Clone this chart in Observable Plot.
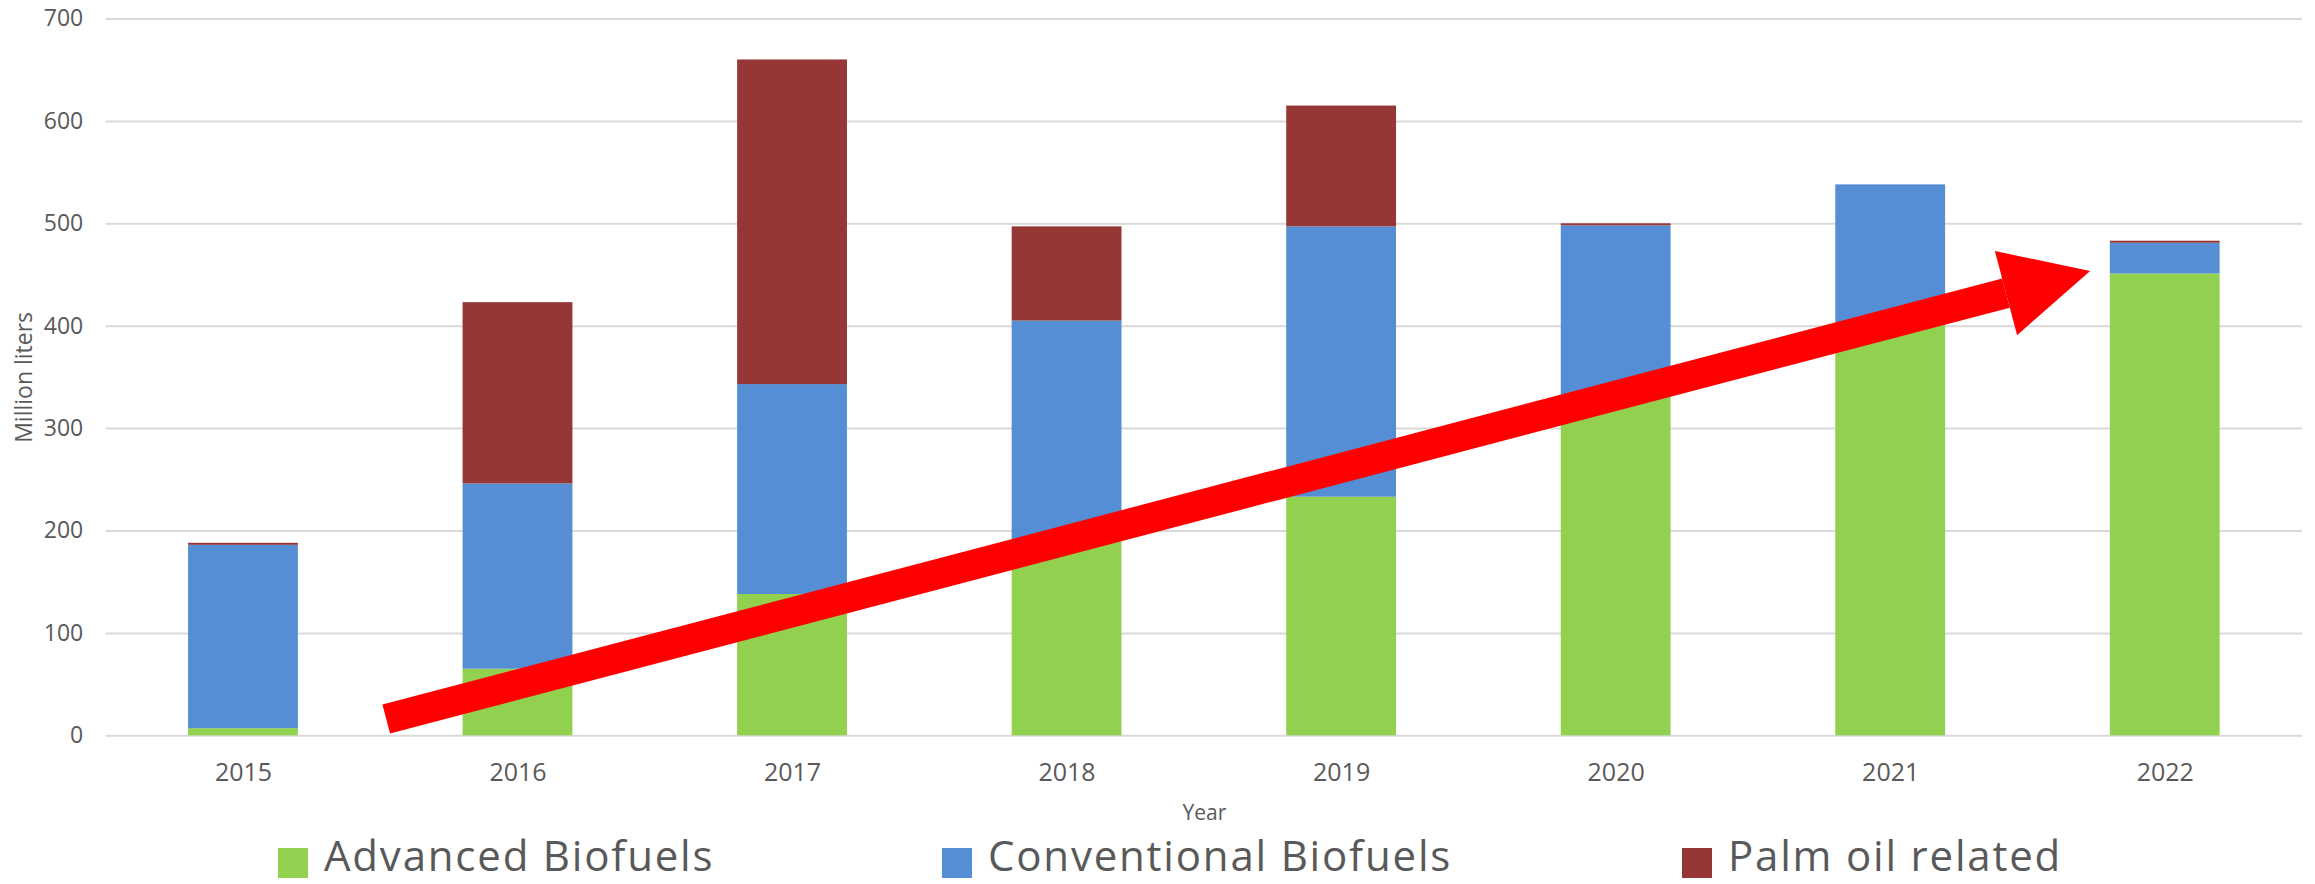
<!DOCTYPE html>
<html><head><meta charset="utf-8">
<script src="https://cdn.jsdelivr.net/npm/d3@7"></script>
<script src="https://cdn.jsdelivr.net/npm/@observablehq/plot@0.6"></script>
<style>
html,body{margin:0;padding:0;background:#fff;}
#wrap{position:relative;width:2315px;height:884px;font-family:"Open Sans",sans-serif;overflow:hidden;}
#legend{position:absolute;top:833.7px;left:0;width:2315px;height:42px;}
.item{position:absolute;top:0;height:42px;line-height:42px;font-size:42px;letter-spacing:1.8px;color:#595959;white-space:nowrap;}
.sw{position:absolute;top:14.3px;width:30px;height:30px;}
</style></head>
<body><div id="wrap"></div>
<script>
const years = [2015, 2016, 2017, 2018, 2019, 2020, 2021, 2022];
const advanced = [7, 65, 138, 190, 233, 332, 403, 451];
const conventional = [179, 181, 205, 215, 264, 166, 135, 30];
const palm = [2, 177, 317, 92, 118, 2, 0, 2];
const seriesNames = ["Advanced Biofuels", "Conventional Biofuels", "Palm oil related"];
const seriesColors = ["#92D050", "#558ED5", "#953735"];
const yTicks = [0, 100, 200, 300, 400, 500, 600, 700];
const arrowYears = [2015.52, 2021.42];
const arrowValues = [16.4, 432.3];

const seriesValues = [advanced, conventional, palm];
const rows = [];
years.forEach((yr, i) => {
  let acc = 0;
  seriesNames.forEach((s, k) => {
    const v = seriesValues[k][i];
    rows.push({year: yr, series: s, y1: acc, y2: acc + v});
    acc += v;
  });
});
const arrowPts = arrowYears.map((x, i) => ({x, y: arrowValues[i]}));
const head = {draw(ctx) { ctx.moveTo(87, 0); ctx.lineTo(0, -43.5); ctx.lineTo(0, 43.5); ctx.closePath(); }};

const hasAxisMarks = typeof Plot.axisX === "function";
const axisMarks = hasAxisMarks ? [
  Plot.axisY(yTicks, {tickSize: 0, tickPadding: 23, fontSize: 23, label: null, fill: "#595959"}),
  Plot.axisX(years, {tickSize: 0, tickPadding: 27, fontSize: 25, tickFormat: d => String(d), label: null, fill: "#595959"})
] : [];

const chart = Plot.plot({
  width: 2315, height: 840,
  marginTop: 18.5, marginBottom: 104.7, marginLeft: 105.7, marginRight: 13,
  style: {fontFamily: "'Open Sans', sans-serif", color: "#595959", fontSize: "24px", background: "#fff"},
  x: {type: "linear", domain: [2014.5, 2022.5], ticks: years, tickFormat: d => String(d), tickSize: 0, tickPadding: 27, label: null},
  y: {domain: [0, 700], ticks: yTicks, tickSize: 0, tickPadding: 23, label: null},
  color: {domain: seriesNames, range: seriesColors},
  marks: [
    Plot.ruleY(yTicks, {stroke: "#D9D9D9", strokeWidth: 2}),
    Plot.rect(rows, {x1: d => d.year - 0.2, x2: d => d.year + 0.2, y1: "y1", y2: "y2", fill: "series"}),
    Plot.line(arrowPts, {x: "x", y: "y", stroke: "#FF0000", strokeWidth: 30, strokeLinecap: "butt"}),
    Plot.dot([arrowPts[1]], {x: "x", y: "y", symbol: head, fill: "#FF0000", stroke: "none", rotate: -14.8, r: 10}),
    ...axisMarks,
    Plot.text(["Year"], {frameAnchor: "bottom", text: d => d, dy: 77, textAnchor: "middle", lineAnchor: "middle", fontSize: 21, fill: "#595959"}),
    Plot.text(["Million liters"], {frameAnchor: "left", text: d => d, rotate: -90, dx: -82, textAnchor: "middle", lineAnchor: "middle", fontSize: 23, fill: "#595959"})
  ]
});
const wrap = document.getElementById("wrap");
wrap.appendChild(chart);

const legend = document.createElement("div");
legend.id = "legend";
const swLefts = [278, 942, 1682];
seriesNames.forEach((s, k) => {
  const sw = document.createElement("div");
  sw.className = "sw"; sw.style.left = swLefts[k] + "px"; sw.style.background = seriesColors[k];
  legend.appendChild(sw);
  const t = document.createElement("div");
  t.className = "item"; t.style.left = (swLefts[k] + 46) + "px"; t.textContent = s;
  legend.appendChild(t);
});
wrap.appendChild(legend);
</script>
</body></html>
